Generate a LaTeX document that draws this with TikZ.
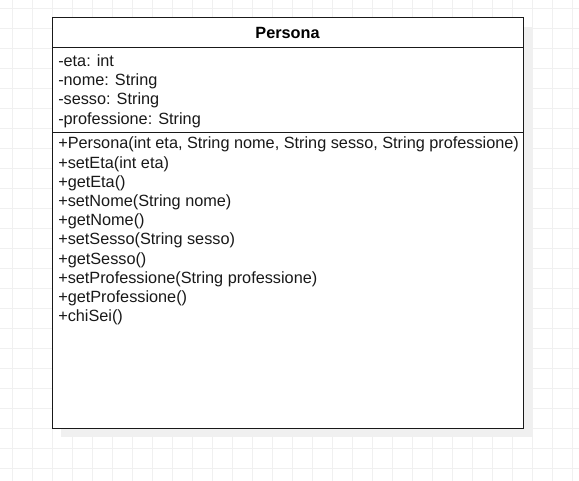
\documentclass[tikz,border=0pt]{standalone}
\usepackage{fontspec}
\setmainfont{Liberation Sans}
\begin{document}
\begin{tikzpicture}[x=0.75pt,y=-0.75pt,
  gridline/.style={draw=black!6,line width=0.75pt},
  part/.style={draw=black!90,line width=0.75pt,fill=white,rectangle,inner sep=0pt,outer sep=0pt,anchor=north west,minimum width=353.25pt},
  member/.style={anchor=base west,inner sep=0pt,font=\fontsize{12.2}{14}\selectfont,text=black!90}
]
\useasboundingbox (0,0) rectangle (579,481);
\fill[white] (0,0) rectangle (579,481);
\foreach \i in {0,...,28} \draw[gridline] ({12.5+20*\i},0) -- ({12.5+20*\i},481);
\foreach \j in {0,...,23} \draw[gridline] (0,{8.5+20*\j}) -- (579,{8.5+20*\j});
% shadow
\fill[black!6] (61,27) rectangle (532,437);
% class parts
\node[part,minimum height=22.5pt] (head) at (52,18) {};
\node[part,minimum height=63.75pt] (attrs) at (52,48) {};
\node[part,minimum height=221.25pt] (meths) at (52,133) {};
\node[anchor=base,inner sep=0pt,font=\fontsize{12.2}{14}\selectfont\bfseries] (title) at (287.5,38.5) {Persona};
% attributes
\node[member] (a1) at (58,66.5) {-eta: int};
\node[member] (a2) at (58,85.7) {-nome: String};
\node[member] (a3) at (58,104.9) {-sesso: String};
\node[member] (a4) at (58,124.1) {-professione: String};
% methods
\node[member] (m1) at (58,149) {+Persona(int eta, String nome, String sesso, String professione)};
\node[member] (m2) at (58,168.2) {+setEta(int eta)};
\node[member] (m3) at (58,187.4) {+getEta()};
\node[member] (m4) at (58,206.6) {+setNome(String nome)};
\node[member] (m5) at (58,225.8) {+getNome()};
\node[member] (m6) at (58,245) {+setSesso(String sesso)};
\node[member] (m7) at (58,264.2) {+getSesso()};
\node[member] (m8) at (58,283.4) {+setProfessione(String professione)};
\node[member] (m9) at (58,302.6) {+getProfessione()};
\node[member] (m10) at (58,321.8) {+chiSei()};
\end{tikzpicture}
\end{document}
